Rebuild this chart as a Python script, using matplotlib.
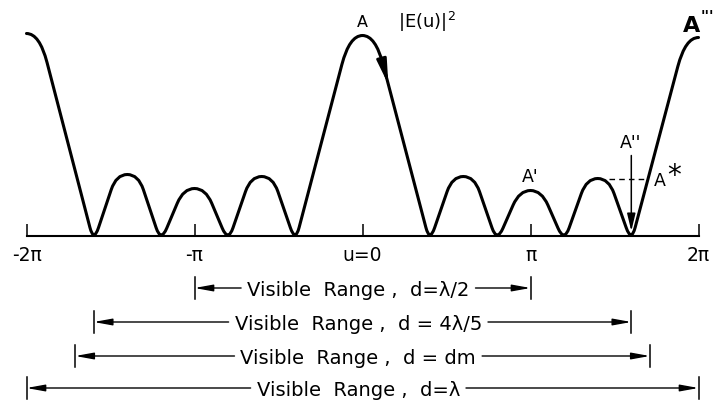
import numpy as np
import matplotlib
matplotlib.use("Agg")
import matplotlib.pyplot as plt
from matplotlib.path import Path
from matplotlib.patches import PathPatch, FancyArrowPatch

# |E(u)|^2 of the array: lobe centres (in units of pi) and their peak levels
lobe_u = [-2.0, -1.4, -1.0, -0.6, 0.0, 0.6, 1.0, 1.4, 2.0]
lobe_level = [1.01, 0.305, 0.235, 0.295, 1.0, 0.295, 0.225, 0.285, 0.99]
# nulls of the pattern (units of pi) between neighbouring lobes
null_u = [-1.6, -1.2, -0.8, -0.4, 0.4, 0.8, 1.2, 1.6]

tick_u = [-2, -1, 0, 1, 2]
tick_labels = ["-2π", "-π", "u=0", "π", "2π"]

# half-width (units of pi) of the visible range for each element spacing
range_half = [1.0, 1.6, 1.71, 2.0]
range_labels = [
    "Visible  Range ,  d=λ/2",
    "Visible  Range ,  d = 4λ/5",
    "Visible  Range ,  d = dm",
    "Visible  Range ,  d=λ",
]

plt.rcParams["font.family"] = ["DejaVu Sans"]

W, H = 717, 402
fig = plt.figure(figsize=(W / 100, H / 100), dpi=100, facecolor="white")
ax = fig.add_axes([0, 0, 1, 1])
px_per_pi, x_origin = 168.0, 362.5
px_per_unit, y_origin = 200.0, 236.5
ax.set_xlim(-x_origin / px_per_pi, (W - x_origin) / px_per_pi)
ax.set_ylim(-(H - y_origin) / px_per_unit, y_origin / px_per_unit)
ax.patch.set_visible(False)

for side in ("top", "left", "right"):
    ax.spines[side].set_visible(False)
ax.spines["bottom"].set_position(("data", 0))
ax.spines["bottom"].set_bounds(tick_u[0], tick_u[-1])
ax.spines["bottom"].set_linewidth(1.5)
ax.set_xticks(tick_u, tick_labels)
ax.set_yticks([])
ax.tick_params(axis="x", direction="in", length=8.6, width=1.1, pad=6.5,
               labelsize=13.5)

to_disp = ax.transData.transform
to_data = ax.transData.inverted().transform


def lobe_corners():
    """Corner polygon of the pattern (display coords) plus rounding arms."""
    pts, arms = [], []
    last = len(lobe_u) - 1
    for i, (uc, lv) in enumerate(zip(lobe_u, lobe_level)):
        cx, cy = to_disp((uc, lv))
        main = lv >= 0.5
        half = 13.0 if main else 11.0
        flank = 30.0 if main else 16.0
        if i == 0:
            pts.append((cx, cy)); arms.append((0.0, 0.0))
        else:
            pts.append((cx - half, cy)); arms.append((flank, half))
        if i == last:
            pts.append((cx, cy)); arms.append((0.0, 0.0))
        else:
            pts.append((cx + half, cy)); arms.append((half, flank))
            nx, ny = to_disp((null_u[i], 0.0))
            pts.append((nx, ny - 6.5)); arms.append((15.0, 15.0))
    return np.array(pts), arms


pts, arms = lobe_corners()
verts, codes = [pts[0]], [Path.MOVETO]
for k in range(1, len(pts) - 1):
    p, prev, nxt = pts[k], pts[k - 1], pts[k + 1]
    a_in, a_out = arms[k]
    u_in = (prev - p) / np.linalg.norm(prev - p)
    u_out = (nxt - p) / np.linalg.norm(nxt - p)
    verts += [p + a_in * u_in, p, p + a_out * u_out]
    codes += [Path.LINETO, Path.CURVE3, Path.CURVE3]
verts.append(pts[-1]); codes.append(Path.LINETO)
pattern = Path(to_data(np.array(verts)), codes)
ax.add_patch(PathPatch(pattern, fill=False, lw=2.2, color="black",
                       capstyle="round", joinstyle="round"))


def on_segment(a, b, level):
    """Data point on the straight segment a-b (display coords) at a level."""
    y = to_disp((0.0, level))[1]
    t = (y - a[1]) / (b[1] - a[1])
    return to_data(a + t * (b - a))


# direction arrow on the right flank of the main beam
main_i = lobe_u.index(0.0)
tr_main, null_main = pts[3 * main_i + 1], pts[3 * main_i + 2]
tail = on_segment(tr_main, null_main, 0.85)
tip = on_segment(tr_main, null_main, 0.755)
ax.add_patch(FancyArrowPatch(tuple(tail), tuple(tip),
                             arrowstyle="-|>,head_length=1.45,head_width=0.29",
                             mutation_scale=10, lw=2.0, color="black",
                             shrinkA=0, shrinkB=0))

# dashed level of the last side lobe up to the grating lobe flank (A*)
sl = len(lobe_u) - 2
sl_level = lobe_level[sl]
start = to_data(pts[3 * sl + 1])
end = on_segment(pts[3 * sl + 2], pts[3 * sl + 3], sl_level)
ax.plot([start[0], end[0]], [sl_level, sl_level], color="black", lw=1.0,
        linestyle=(0, (4, 3)))

# A'' arrow down into the last null
ax.add_patch(FancyArrowPatch((null_u[-1], 0.40), (null_u[-1], 0.022),
                             arrowstyle="-|>,head_length=1.05,head_width=0.25",
                             mutation_scale=10, lw=1.1, color="black",
                             shrinkA=0, shrinkB=0))

# point labels
ax.text(lobe_u[main_i], lobe_level[main_i] + 0.068, "A", ha="center",
        va="center", fontsize=11.5)
ax.text(0.21, 1.072, "|E(u)|$^2$", ha="left", va="center", fontsize=13)
ax.text(1.905, 1.055, "A", ha="left", va="center", fontsize=16,
        fontweight="bold")
ax.text(2.01, 1.095, "'''", ha="left", va="center", fontsize=10.5,
        fontweight="bold")
ax.text(1.0, 0.298, "A'", ha="center", va="center", fontsize=12.5)
ax.text(1.595, 0.468, "A''", ha="center", va="center", fontsize=12.5)
ax.text(1.735, 0.275, "A", ha="left", va="center", fontsize=12.5)
ax.text(1.815, 0.30, "*", ha="left", va="center", fontsize=20)

# visible-range bars
row_y = [-0.2625, -0.4325, -0.6025, -0.7625]
renderer = fig.canvas.get_renderer()
for half, label, y in zip(range_half, range_labels, row_y):
    t = ax.text(-0.025, y - 0.036, label, ha="center", va="baseline",
                fontsize=14)
    bb = t.get_window_extent(renderer=renderer)
    left = to_data((bb.x0 - 6, 0))[0]
    right = to_data((bb.x1 + 6, 0))[0]
    for end_x, start_x in ((-half, left), (half, right)):
        ax.add_patch(FancyArrowPatch((start_x, y), (end_x, y),
                                     arrowstyle="-|>,head_length=1.1,head_width=0.2",
                                     mutation_scale=10, lw=1.0, color="black",
                                     shrinkA=0, shrinkB=0))
        ax.plot([end_x, end_x], [y - 0.055, y + 0.055], color="black", lw=1.1)

fig.savefig("out.png", dpi=100, facecolor="white")
